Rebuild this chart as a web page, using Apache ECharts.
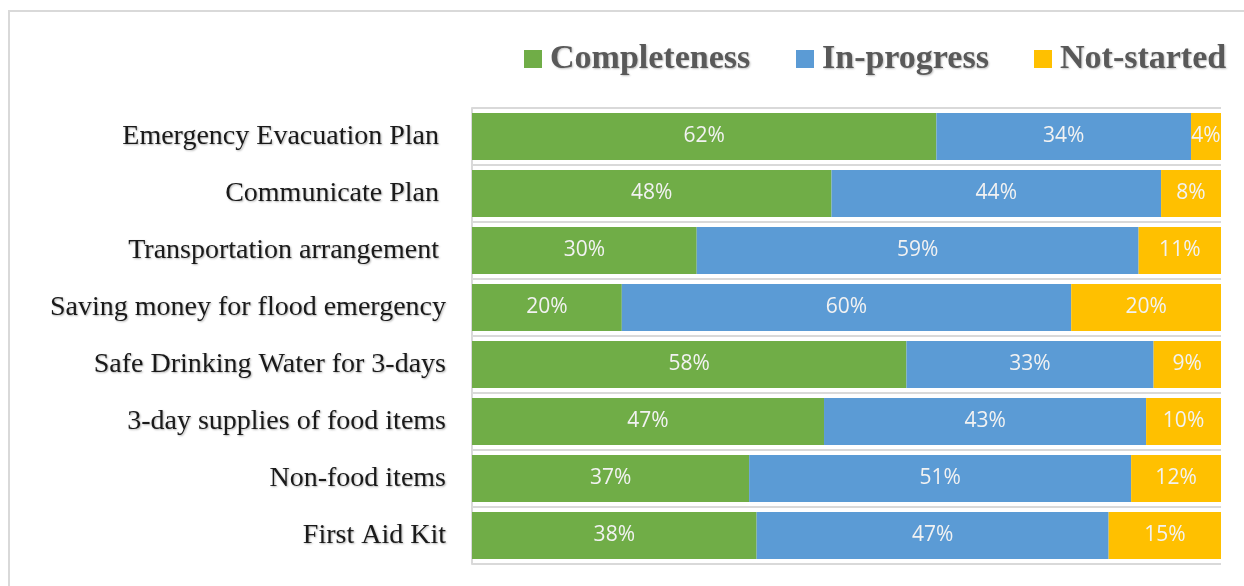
<!DOCTYPE html>
<html>
<head>
<meta charset="utf-8">
<script src="https://cdn.jsdelivr.net/npm/echarts@6/dist/echarts.min.js"></script>
<style>
  html, body { margin: 0; padding: 0; background: #ffffff; }
  #chart { width: 1244px; height: 586px; }
</style>
</head>
<body>
<div id="chart"></div>
<script>
// Preparedness items, listed top to bottom
const categories = [
  'Emergency Evacuation Plan ',
  'Communicate Plan ',
  'Transportation arrangement ',
  'Saving money for flood emergency',
  'Safe Drinking Water for 3-days',
  '3-day supplies of food items',
  'Non-food items',
  'First Aid Kit'
];
// Share of households (%) per status
const completeness = [62, 48, 30, 20, 58, 47, 37, 38];
const inProgress   = [34, 44, 59, 60, 33, 43, 51, 47];
const notStarted   = [4, 8, 11, 20, 9, 10, 12, 15];

const seriesNames = ['Completeness', 'In-progress', 'Not-started'];
const colors = ['#70AD47', '#5B9BD5', '#FFC000'];
const legendLefts = [519, 791, 1029];

const chart = echarts.init(document.getElementById('chart'));

const serif = 'Liberation Serif, Times New Roman, serif';

const labelStyle = {
  show: true,
  position: 'inside',
  formatter: p => p.value + '%',
  color: '#F2F2F2',
  fontFamily: 'Open Sans, Liberation Sans, sans-serif',
  fontSize: 21,
  padding: [3, 0, 0, 0]
};

function makeSeries(name, data, color) {
  return {
    name: name,
    type: 'bar',
    stack: 'total',
    data: data,
    barWidth: 47,
    itemStyle: { color: color },
    label: labelStyle,
    emphasis: { disabled: true }
  };
}

// one legend entry per status so each sits at its own spot
const legends = seriesNames.map((name, i) => ({
  top: 37,
  left: legendLefts[i],
  itemWidth: 18,
  itemHeight: 18,
  icon: 'rect',
  selectedMode: false,
  textStyle: {
    fontFamily: serif,
    fontWeight: 'bold',
    fontSize: 34,
    color: '#595959',
    padding: [0, 0, 0, 3],
    textShadowColor: 'rgba(0,0,0,0.25)',
    textShadowBlur: 2,
    textShadowOffsetX: 1,
    textShadowOffsetY: 1
  },
  data: [name]
}));

chart.setOption({
  animation: false,
  backgroundColor: '#ffffff',
  graphic: [{
    type: 'rect',
    shape: { x: 9, y: 11, width: 1300, height: 620 },
    style: { fill: 'none', stroke: '#D9D9D9', lineWidth: 2 },
    silent: true,
    z: -1
  }],
  legend: legends,
  grid: { left: 472, right: 23, top: 108, bottom: 22 },
  xAxis: {
    type: 'value',
    min: 0,
    max: 100,
    show: false
  },
  yAxis: {
    type: 'category',
    inverse: true,
    data: categories,
    axisLine: { show: true, lineStyle: { color: '#D9D9D9', width: 2 } },
    axisTick: { show: false },
    splitLine: { show: true, lineStyle: { color: '#D9D9D9', width: 2 } },
    axisLabel: {
      margin: 26,
      fontFamily: serif,
      fontSize: 28,
      color: '#1a1a1a',
      textShadowColor: 'rgba(0,0,0,0.3)',
      textShadowBlur: 2,
      textShadowOffsetX: 1,
      textShadowOffsetY: 1
    }
  },
  series: [
    makeSeries(seriesNames[0], completeness, colors[0]),
    makeSeries(seriesNames[1], inProgress, colors[1]),
    makeSeries(seriesNames[2], notStarted, colors[2])
  ]
});
</script>
</body>
</html>
